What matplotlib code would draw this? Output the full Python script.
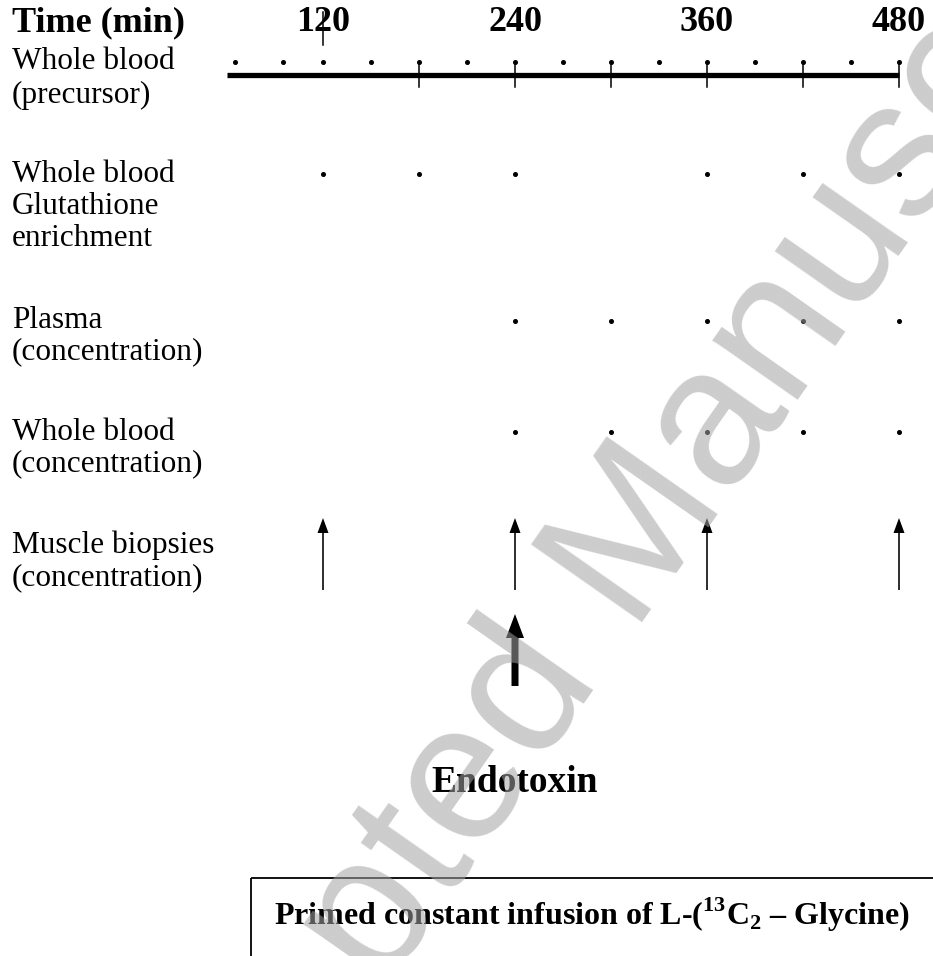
import matplotlib
matplotlib.use("Agg")
import matplotlib.pyplot as plt
from matplotlib.patches import FancyArrow, Rectangle

plt.rcParams['font.family'] = ['Liberation Serif', 'DejaVu Serif']
plt.rcParams['mathtext.fontset'] = 'custom'
plt.rcParams['mathtext.rm'] = 'Liberation Serif:bold'
plt.rcParams['mathtext.bf'] = 'Liberation Serif:bold'

# ---------------- data ----------------
axis_title = "Time (min)"
tick_labels = [120, 240, 360, 480]
precursor_span = [60, 480]
precursor_dots = [65, 95, 120, 150, 180, 210, 240, 270, 300, 330, 360, 390, 420, 450, 480]
precursor_ticks = [180, 240, 300, 360, 420, 480]
stray_tick = [120]
glutathione_times = [120, 180, 240, 360, 420, 480]
plasma_times = [240, 300, 360, 420, 480]
wholeblood_conc_times = [240, 300, 360, 420, 480]
biopsy_times = [120, 240, 360, 480]
endotoxin_times = [240]
row_labels = [
    ["Whole blood", "(precursor)"],
    ["Whole blood", "Glutathione", "enrichment"],
    ["Plasma", "(concentration)"],
    ["Whole blood", "(concentration)"],
    ["Muscle biopsies", "(concentration)"],
]
endotoxin_label = "Endotoxin"
infusion_label = r"Primed constant infusion of L-($^{\mathbf{13}}$C$_{\mathbf{2}}$ – Glycine)"
watermark = "Accepted Manuscript"

# ---------------- layout ----------------
W, H = 933, 956
fig = plt.figure(figsize=(W / 100, H / 100), dpi=100)
ax = fig.add_axes([0, 0, 1, 1])
X0, PX = 131.0, 1.6          # pixel x of t=0, pixels per minute
ax.set_xlim(-X0 / PX, (W - X0) / PX)
ax.set_ylim(H, 0)
ax.axis('off')

def xa(px):
    return (px - X0) / PX

# left labels
ax.text(xa(12), 23, axis_title, fontsize=26, fontweight='bold', ha='left', va='center')
label_y = [[61, 95], [174, 206, 238], [320, 352], [432, 464], [545, 578]]
for lines, ys in zip(row_labels, label_y):
    for s, y in zip(lines, ys):
        ax.text(xa(12), y, s, fontsize=22.5, ha='left', va='center')

# time tick labels
for t in tick_labels:
    ax.text(t, 22, str(t), fontsize=26, fontweight='bold', ha='center', va='center')
for t in stray_tick:
    ax.plot([t, t], [12, 45], color='black', lw=1.1)

# precursor row
ax.plot(precursor_span, [75, 75], color='black', lw=3.8, solid_capstyle='butt')
for t in precursor_ticks:
    ax.plot([t, t], [63, 87], color='black', lw=1.1)
ax.plot(precursor_dots, [62] * len(precursor_dots), 'o', color='black', ms=2.6)

# sample rows
ax.plot(glutathione_times, [174] * len(glutathione_times), 'o', color='black', ms=2.6)
ax.plot(plasma_times, [321] * len(plasma_times), 'o', color='black', ms=2.6)
ax.plot(wholeblood_conc_times, [432] * len(wholeblood_conc_times), 'o', color='black', ms=2.6)

# biopsy arrows
for t in biopsy_times:
    ax.add_patch(FancyArrow(t, 590, 0, -72, width=1.6 / PX, head_width=11 / PX,
                            head_length=15, length_includes_head=True,
                            color='black', lw=0))

# endotoxin arrow
for t in endotoxin_times:
    ax.add_patch(FancyArrow(t, 686, 0, -72, width=7 / PX, head_width=18 / PX,
                            head_length=24, length_includes_head=True,
                            color='black', lw=0))
    ax.text(t, 782, endotoxin_label, fontsize=27, fontweight='bold', ha='center', va='center')

# infusion box
ax.add_patch(Rectangle((xa(251), 878), xa(1100) - xa(251), 200, fill=False,
                       edgecolor='black', lw=1.3))
ax.text(xa(592), 915, infusion_label, fontsize=23, fontweight='bold', ha='center', va='center')

# watermark
ax.text(xa(659), 599, watermark, fontsize=142, family='Liberation Sans',
        color=(0.64, 0.64, 0.64), alpha=0.55, rotation=55, rotation_mode='anchor',
        ha='center', va='baseline', zorder=10)

fig.savefig('out.png', dpi=100)
